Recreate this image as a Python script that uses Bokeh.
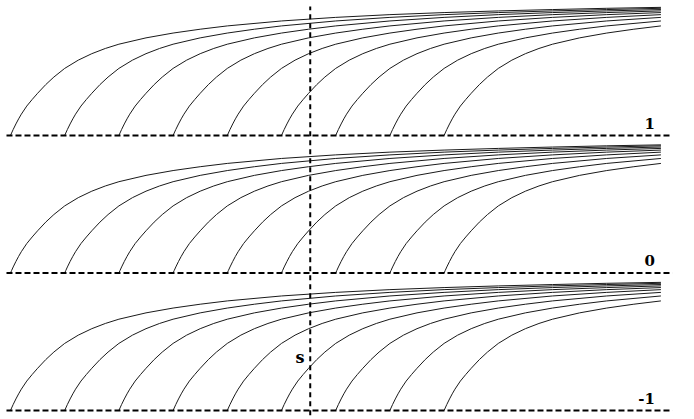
from bokeh.plotting import figure
from bokeh.models import Range1d, ColumnDataSource
from bokeh.core.properties import value
from bokeh.embed import file_html
from bokeh.resources import INLINE

# Panel levels (baseline of each panel, labelled)
levels = [1, 0, -1]
level_labels = ["1", "0", "-1"]

# Start positions of the curves (same in every panel)
starts = [0, 1, 2, 3, 4, 5, 6, 7, 8]
x_end = 12

# Base curve: distance from start -> height above baseline
base_dx = [0, 0.02, 0.05, 0.1, 0.15, 0.2, 0.3, 0.4, 0.5, 0.65, 0.8, 1.0, 1.25, 1.5,
           1.75, 2, 2.5, 3, 3.5, 4, 5, 6, 7, 8, 9, 10, 11, 12]
base_h = [0, 0.018, 0.044, 0.084, 0.121, 0.155, 0.214, 0.262, 0.307, 0.370, 0.425,
          0.488, 0.548, 0.595, 0.633, 0.664, 0.710, 0.745, 0.773, 0.797, 0.833,
          0.859, 0.879, 0.894, 0.906, 0.916, 0.925, 0.932]

s_line_x = 5.53
s_label = "s"
s_label_y = -0.615

x_lo, x_hi = -0.1845, 12.472
y_lo, y_hi = -1.0655, 1.9818

p = figure(width=686, height=419, output_backend="svg", toolbar_location=None,
           x_range=Range1d(x_lo, x_hi), y_range=Range1d(y_lo, y_hi),
           min_border=0, min_border_left=0, min_border_right=0,
           min_border_top=0, min_border_bottom=0)
p.xaxis.visible = False
p.yaxis.visible = False
p.grid.visible = False
p.outline_line_color = None
p.background_fill_color = "white"
p.border_fill_color = "white"

xs, ys = [], []
for lv in levels:
    for s0 in starts:
        cx, cy = [], []
        for d, h in zip(base_dx, base_h):
            if s0 + d <= x_end + 1e-9:
                cx.append(s0 + d)
                cy.append(lv + h)
        xs.append(cx)
        ys.append(cy)
p.multi_line(xs=xs, ys=ys, line_color="#1a1a1a", line_width=1.0)

# baselines
for lv in levels:
    p.line(x=[-0.074, 12.214], y=[lv, lv], line_color="black", line_width=2,
           line_dash="6 3")

# vertical dashed line
p.line(x=[s_line_x, s_line_x], y=[y_lo - 0.1, 1.938], line_color="black",
       line_width=2, line_dash="5 4")

src = ColumnDataSource(dict(x=[11.89] * 3, y=[lv + 0.05 for lv in levels],
                            t=level_labels))
p.text(x="x", y="y", text="t", source=src, text_align="right",
       text_baseline="bottom", text_font=value("DejaVu Serif"),
       text_font_style="bold", text_font_size="15px", text_color="black")

p.text(x=[5.34], y=[s_label_y], text=[s_label], text_align="center",
       text_baseline="alphabetic", text_font=value("DejaVu Serif"),
       text_font_style="bold", text_font_size="16px", text_color="black")

open("out.html", "w").write(file_html(p, INLINE))
